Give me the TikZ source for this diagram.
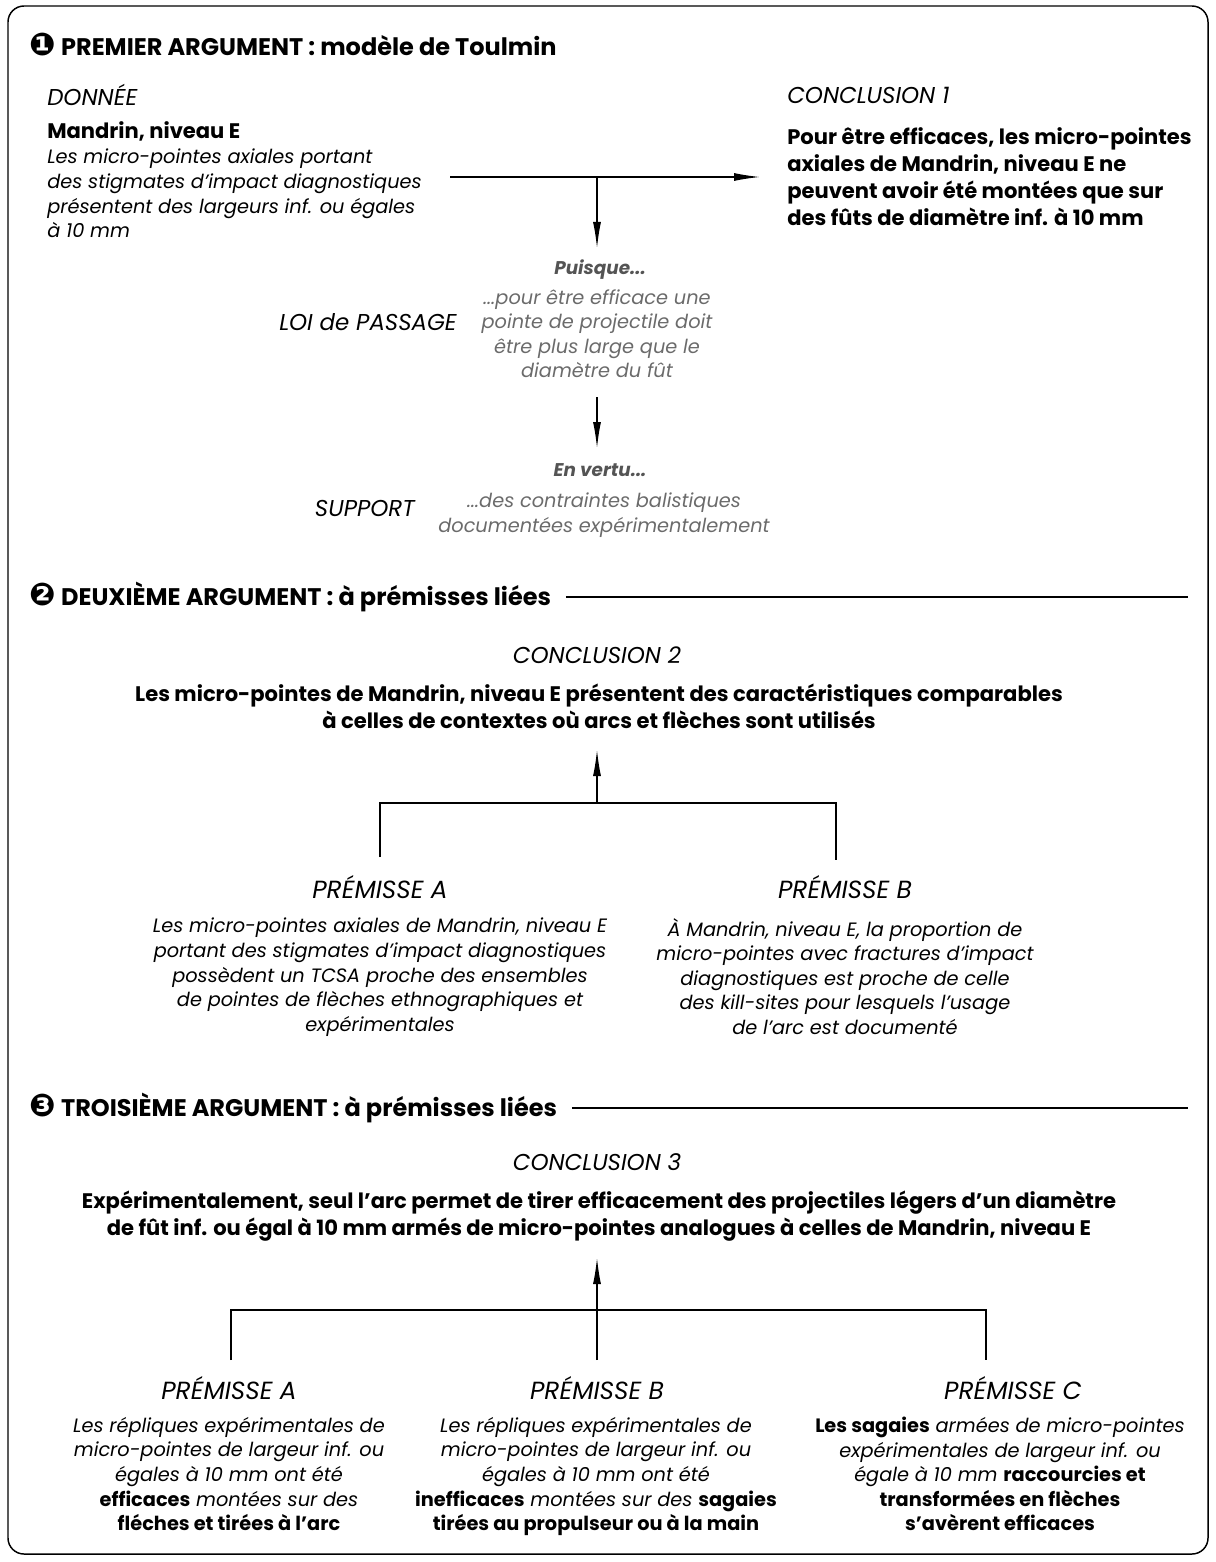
\documentclass[tikz,border=0pt]{standalone}
\usepackage{fontspec}
\setmainfont{Poppins}
\newfontfamily\dingfont{DejaVu Sans}
\usetikzlibrary{arrows.meta,positioning}
\definecolor{gris}{rgb}{0.42,0.42,0.42}
\definecolor{grisfonce}{rgb}{0.33,0.33,0.33}
\newcommand{\fort}[1]{{\upshape\bfseries #1}}
\newcommand{\puce}[1]{{\dingfont\fontsize{23.5}{23.5}\selectfont #1}\hspace{4pt}}

\tikzset{
  titre/.style={anchor=west, inner sep=0pt, font=\fontsize{18}{20}\selectfont\bfseries},
  etiquette/.style={inner sep=0pt, font=\fontsize{17.2}{20}\selectfont\itshape},
  premisse/.style={inner sep=0pt, font=\fontsize{18.6}{22}\selectfont\itshape},
  gras/.style={inner sep=0pt, align=left, font=\fontsize{15.8}{20.3}\selectfont\bfseries},
  texte/.style={inner sep=0pt, align=center, font=\fontsize{14.5}{18.4}\selectfont\itshape},
  renvoi/.style={inner sep=0pt, text=grisfonce, font=\fontsize{13.8}{16}\selectfont\bfseries\itshape},
  fleche/.style={-{Latex[length=19.5pt,width=6pt]}, line width=0.9pt},
  trait/.style={line width=0.9pt},
}

\begin{document}
\begin{tikzpicture}[x=0.75pt,y=-0.75pt]
    %% \draw[help lines] (0,0) grid (1216,1562);
    \useasboundingbox (0,0) rectangle (1216,1562);
    \draw[line width=1.1pt, rounded corners=12] (8,6) rectangle (1208,1554);

    %% premier argument
    \node[titre] (h1) at (29,45) {\puce{❶}PREMIER ARGUMENT : modèle de Toulmin};
    \node[etiquette, anchor=west] (donnee) at (47,95) {DONNÉE};
    \node[gras, anchor=west] (mandrin) at (47,131) {Mandrin, niveau E};
    \node[texte, align=left, anchor=north west] (donneetxt) at (47,149)
      {Les micro-pointes axiales portant\\des stigmates d’impact diagnostiques\\présentent des largeurs inf. ou égales\\à 10 mm};
    \node[etiquette, anchor=west] (conc1lab) at (787,95) {CONCLUSION 1};
    \node[gras, anchor=north west] (conc1) at (787,127)
      {Pour être efficaces, les micro-pointes\\axiales de Mandrin, niveau E ne\\peuvent avoir été montées que sur\\des fûts de diamètre inf. à 10 mm};
    \node[renvoi] (puisque) at (600,270) {Puisque...};
    \node[texte, text=gris, anchor=north] (loitxt) at (597,289)
      {...pour être efficace une\\pointe de projectile doit\\être plus large que le\\diamètre du fût};
    \node[etiquette, anchor=east] (loi) at (457,322) {LOI de PASSAGE};
    \node[renvoi] (envertu) at (600,470) {En vertu...};
    \node[texte, text=gris, anchor=north] (supporttxt) at (604,493)
      {...des contraintes balistiques\\documentées expérimentalement};
    \node[etiquette, anchor=east] (support) at (415,508) {SUPPORT};

    \coordinate (depart) at (450,177);
    \coordinate (jonction) at (597,177);
    \coordinate (fin1) at (760,177);
    \coordinate (finpuisque) at (597,248);
    \coordinate (debvertu) at (597,397);
    \coordinate (finvertu) at (597,448);
    \draw[fleche] (depart) -- (fin1);
    \draw[fleche] (jonction) -- (finpuisque);
    \draw[fleche] (debvertu) -- (finvertu);

    %% deuxieme argument
    \node[titre] (h2) at (29,597) {\puce{❷}DEUXIÈME ARGUMENT : à prémisses liées};
    \coordinate (h2fin) at (1188,597);
    \draw[trait] ([xshift=11pt]h2.east) -- (h2fin);
    \node[etiquette] (conc2lab) at (597,655) {CONCLUSION 2};
    \node[gras, align=center, anchor=north] (conc2) at (599,684)
      {Les micro-pointes de Mandrin, niveau E présentent des caractéristiques comparables\\à celles de contextes où arcs et flèches sont utilisés};
    \node[premisse] (pA2lab) at (380,887) {PRÉMISSE A};
    \node[texte, anchor=north] (pA2) at (380,918)
      {Les micro-pointes axiales de Mandrin, niveau E\\portant des stigmates d’impact diagnostiques\\possèdent un TCSA proche des ensembles\\de pointes de flèches ethnographiques et\\expérimentales};
    \node[premisse] (pB2lab) at (845,887) {PRÉMISSE B};
    \node[texte, anchor=north] (pB2) at (845,918)
      {À Mandrin, niveau E, la proportion de\\micro-pointes avec fractures d’impact\\diagnostiques est proche de celle\\des kill-sites pour lesquels l’usage\\de l’arc est documenté};

    \coordinate (b2) at (597,803);
    \coordinate (b2h) at (597,750);
    \coordinate (b2g) at (380,803);
    \coordinate (b2d) at (836,803);
    \coordinate (b2gb) at (380,857);
    \coordinate (b2db) at (836,860);
    \draw[trait] (b2gb) -- (b2g) -- (b2d) -- (b2db);
    \draw[fleche] (b2) -- (b2h);

    %% troisieme argument
    \node[titre] (h3) at (29,1108) {\puce{❸}TROISIÈME ARGUMENT : à prémisses liées};
    \coordinate (h3fin) at (1188,1108);
    \draw[trait] ([xshift=11pt]h3.east) -- (h3fin);
    \node[etiquette] (conc3lab) at (597,1162) {CONCLUSION 3};
    \node[gras, align=center, anchor=north] (conc3) at (599,1191)
      {Expérimentalement, seul l’arc permet de tirer efficacement des projectiles légers d’un diamètre\\de fût inf. ou égal à 10 mm armés de micro-pointes analogues à celles de Mandrin, niveau E};
    \node[premisse] (pA3lab) at (229,1388) {PRÉMISSE A};
    \node[texte, anchor=north] (pA3) at (229,1417)
      {Les répliques expérimentales de\\micro-pointes de largeur inf. ou\\égales à 10 mm ont été\\\fort{efficaces} montées sur des\\\fort{fléches et tirées à l’arc}};
    \node[premisse] (pB3lab) at (597,1388) {PRÉMISSE B};
    \node[texte, anchor=north] (pB3) at (596,1417)
      {Les répliques expérimentales de\\micro-pointes de largeur inf. ou\\égales à 10 mm ont été\\\fort{inefficaces} montées sur des \fort{sagaies}\\\fort{tirées au propulseur ou à la main}};
    \node[premisse] (pC3lab) at (1013,1388) {PRÉMISSE C};
    \node[texte, anchor=north] (pC3) at (1000,1417)
      {\fort{Les sagaies} armées de micro-pointes\\expérimentales de largeur inf. ou\\égale à 10 mm \fort{raccourcies et}\\\fort{transformées en flèches}\\\fort{s’avèrent efficaces}};

    \coordinate (b3) at (597,1360);
    \coordinate (b3h) at (597,1258);
    \coordinate (b3g) at (231,1310);
    \coordinate (b3d) at (986,1310);
    \coordinate (b3gb) at (231,1360);
    \coordinate (b3db) at (986,1360);
    \draw[trait] (b3gb) -- (b3g) -- (b3d) -- (b3db);
    \draw[fleche] (b3) -- (b3h);
\end{tikzpicture}
\end{document}
